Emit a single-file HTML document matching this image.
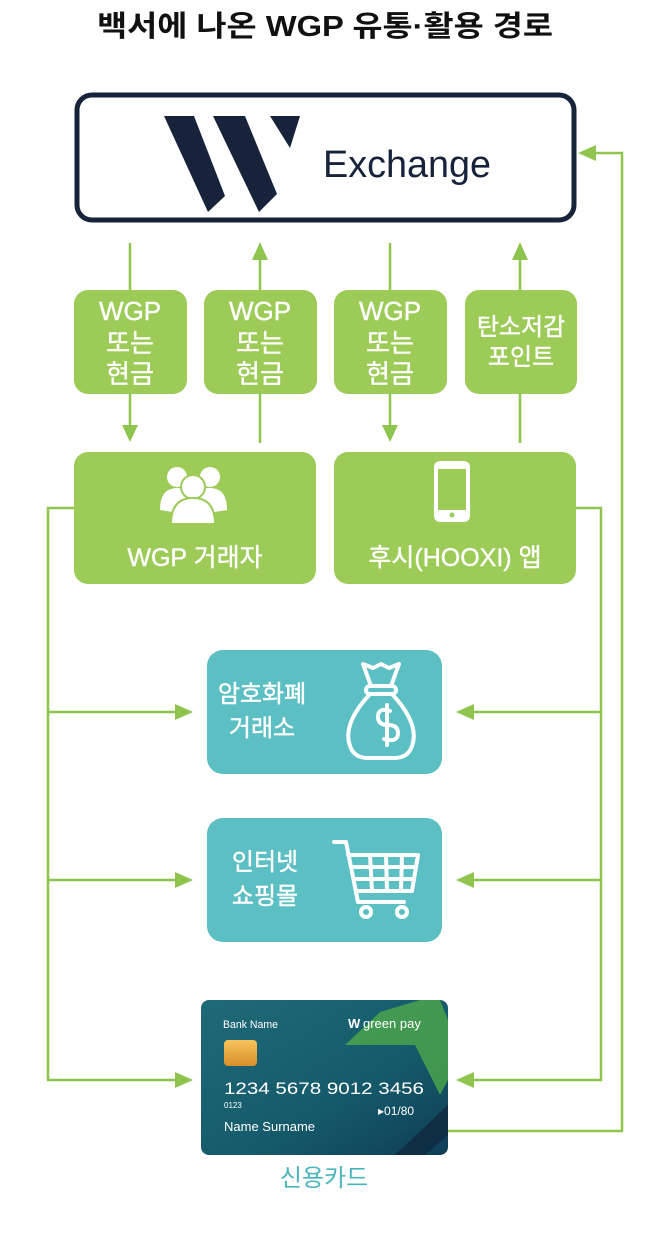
<!DOCTYPE html>
<html><head><meta charset="utf-8"><style>
html,body{margin:0;padding:0;background:#fff;}
svg{display:block;}
text{font-family:"Liberation Sans","Noto Sans CJK KR",sans-serif;}
</style></head><body>
<svg width="658" height="1246" viewBox="0 0 658 1246" xmlns="http://www.w3.org/2000/svg">
<defs>
<linearGradient id="card" x1="0" y1="0" x2="1" y2="1">
<stop offset="0" stop-color="#1f6a78"/><stop offset="0.6" stop-color="#155a6a"/><stop offset="1" stop-color="#0f3d55"/>
</linearGradient>
<linearGradient id="chip" x1="0" y1="0" x2="0" y2="1"><stop offset="0" stop-color="#f6c45c"/><stop offset="1" stop-color="#d98f2a"/></linearGradient>
</defs>
<text x="325" y="36" text-anchor="middle" font-size="29" font-weight="bold" fill="#111" textLength="456" lengthAdjust="spacingAndGlyphs">백서에 나온 WGP 유통·활용 경로</text>

<rect x="77" y="95" width="497" height="125" rx="15" fill="#fff" stroke="#17223b" stroke-width="5"/>
<polygon points="164,116 194,116 225,196 208,212" fill="#17223b"/>
<polygon points="213,116 245,116 277,194 259,212" fill="#17223b"/>
<polygon points="270,116 300,116 290,148" fill="#17223b"/>
<text x="323" y="177" font-size="38" fill="#17223b" textLength="168" lengthAdjust="spacingAndGlyphs">Exchange</text>

<g stroke="#8fc54f" stroke-width="2.5" fill="none">
<line x1="130" y1="243" x2="130" y2="430"/>
<line x1="260" y1="255" x2="260" y2="443"/>
<line x1="390" y1="243" x2="390" y2="430"/>
<line x1="520" y1="255" x2="520" y2="443"/>
<polyline points="76,508 48,508 48,1080 180,1080"/>
<line x1="48" y1="712" x2="180" y2="712"/>
<line x1="48" y1="880" x2="180" y2="880"/>
<polyline points="574,508 601,508 601,1080 468,1080"/>
<line x1="601" y1="712" x2="468" y2="712"/>
<line x1="601" y1="880" x2="468" y2="880"/>
<polyline points="448,1131 622,1131 622,153 590,153"/>
</g>
<g fill="#8fc54f">
<polygon points="122,425 138,425 130,442"/>
<polygon points="382,425 398,425 390,442"/>
<polygon points="252,260 268,260 260,242"/>
<polygon points="512,260 528,260 520,242"/>
<polygon points="175,704 175,720 193,712"/>
<polygon points="175,872 175,888 193,880"/>
<polygon points="175,1072 175,1088 193,1080"/>
<polygon points="474,704 474,720 456,712"/>
<polygon points="474,872 474,888 456,880"/>
<polygon points="474,1072 474,1088 456,1080"/>
<polygon points="596,145 596,161 578,153"/>
</g>

<g fill="#9ccb58">
<rect x="74" y="290" width="113" height="104" rx="14"/>
<rect x="204" y="290" width="113" height="104" rx="14"/>
<rect x="334" y="290" width="113" height="104" rx="14"/>
<rect x="465" y="290" width="112" height="104" rx="14"/>
<rect x="74" y="452" width="242" height="132" rx="14"/>
<rect x="334" y="452" width="242" height="132" rx="14"/>
</g>
<g fill="#fff" font-size="26" text-anchor="middle" stroke="#fff" stroke-width="0.4">
<text x="130" y="320">WGP</text><text x="130" y="352">또는</text><text x="130" y="383">현금</text>
<text x="260" y="320">WGP</text><text x="260" y="352">또는</text><text x="260" y="383">현금</text>
<text x="390" y="320">WGP</text><text x="390" y="352">또는</text><text x="390" y="383">현금</text>
<text x="521" y="335" font-size="24">탄소저감</text><text x="521" y="365" font-size="24">포인트</text>
<text x="195" y="566" font-size="25">WGP 거래자</text>
<text x="455" y="566" font-size="25">후시(HOOXI) 앱</text>
</g>
<g fill="#fff">
<circle cx="177" cy="477" r="10"/><circle cx="210" cy="477" r="10"/>
<path d="M160,510 q0,-22 17,-22 q10,0 14,6 l-6,20z"/>
<path d="M227,510 q0,-22 -17,-22 q-10,0 -14,6 l6,20z"/>
<circle cx="193" cy="487" r="12" stroke="#9ccb58" stroke-width="2"/>
<path d="M171,524 q0,-26 22,-26 q22,0 22,26z" stroke="#9ccb58" stroke-width="2"/>
</g>
<rect x="434" y="461" width="36" height="61" rx="6" fill="#fff"/>
<rect x="438" y="469" width="28" height="41" fill="#9ccb58"/>
<circle cx="452" cy="515" r="2.5" fill="#9ccb58"/>

<rect x="207" y="650" width="235" height="124" rx="16" fill="#5bbfc3"/>
<rect x="207" y="818" width="235" height="124" rx="16" fill="#5bbfc3"/>
<g fill="#fff" font-size="24" text-anchor="middle" stroke="#fff" stroke-width="0.4">
<text x="262" y="702">암호화폐</text><text x="262" y="736">거래소</text>
<text x="265" y="870">인터넷</text><text x="265" y="904">쇼핑몰</text>
</g>
<g stroke="#fff" stroke-width="4" fill="none" stroke-linecap="round" stroke-linejoin="round">
<path d="M363,664 l10,4 l8,-4 l8,4 l10,-4 l-8,22 h-20 z"/>
<rect x="366" y="686" width="30" height="8" rx="4"/>
<path d="M370,694 q-28,30 -20,52 q4,12 18,12 h26 q14,0 18,-12 q8,-22 -20,-52"/>
<path d="M390,711 q-12,-4 -12,6 q0,8 10,8 q10,0 10,8 q0,10 -14,6 M387,705 v40"/>
<path d="M334,842 h12 l12,60 h46"/>
<path d="M348,855 h70 l-6,36 h-54"/>
<line x1="352" y1="867" x2="416" y2="867"/><line x1="354" y1="879" x2="414" y2="879"/>
<line x1="370" y1="855" x2="372" y2="891"/><line x1="386" y1="855" x2="387" y2="891"/><line x1="402" y1="855" x2="401" y2="891"/>
<circle cx="366" cy="912" r="5"/><circle cx="402" cy="912" r="5"/>
</g>

<rect x="201" y="1000" width="247" height="155" rx="8" fill="url(#card)"/>
<polygon points="345,1045 380,1012 420,1000 440,1000 448,1020 448,1080 440,1095 415,1045" fill="#4ea84a" opacity="0.8"/>
<polygon points="448,1105 448,1135 425,1155 395,1155" fill="#0d2e45"/>
<text x="223" y="1028" font-size="11" fill="#fff" textLength="55" lengthAdjust="spacingAndGlyphs">Bank Name</text>
<text x="348" y="1028" font-size="13" fill="#fff" font-weight="bold">W</text>
<text x="363" y="1028" font-size="13" fill="#fff">green pay</text>
<rect x="224" y="1040" width="33" height="26" rx="4" fill="url(#chip)"/>
<text x="224" y="1094" font-size="17" fill="#fff" textLength="200" lengthAdjust="spacingAndGlyphs">1234  5678  9012  3456</text>
<text x="224" y="1108" font-size="8" fill="#fff">0123</text>
<text x="378" y="1115" font-size="12" fill="#fff">▸01/80</text>
<text x="224" y="1131" font-size="13" fill="#fff">Name Surname</text>
<text x="324" y="1186" text-anchor="middle" font-size="24" fill="#4bb5bd">신용카드</text>
</svg>
</body></html>
